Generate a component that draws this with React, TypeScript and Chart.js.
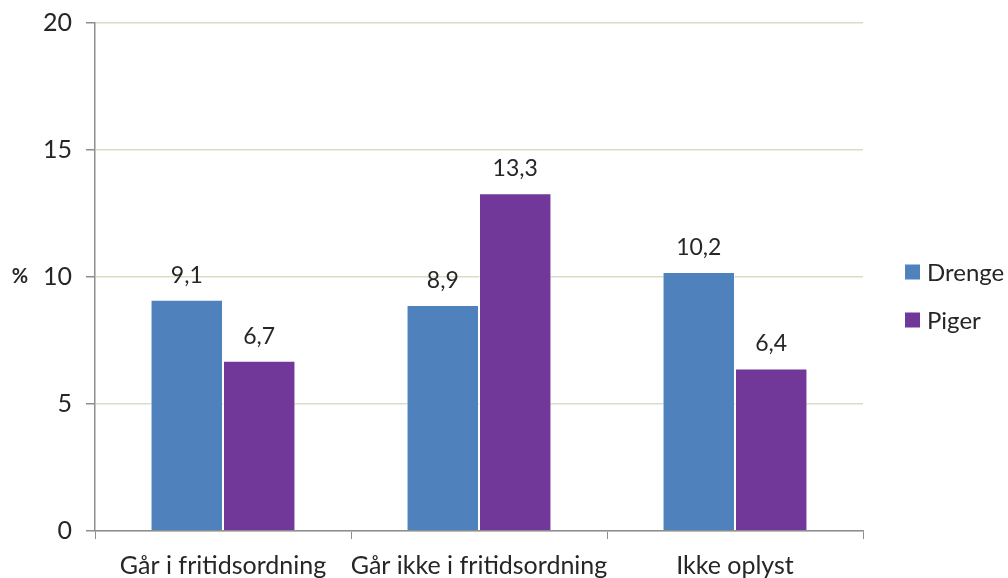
import React, { useEffect, useRef } from "react";
import { Chart, registerables } from "chart.js";

Chart.register(...registerables);

const categories = ["Går i fritidsordning", "Går ikke i fritidsordning", "Ikke oplyst"];
const drenge = [9.1, 8.9, 10.2];
const piger = [6.7, 13.3, 6.4];
const seriesLabels = ["Drenge", "Piger"];
const yTicks = [0, 5, 10, 15, 20];
const yTitle = "%";

const FONT = "Lato";
const TEXT = "#262626";
const AXIS = "#8E8E8E";
const GRID = "#DCDCC6";
const COLORS = ["#4F81BD", "#71389A"];

export default function App() {
  const ref = useRef<HTMLCanvasElement>(null);
  useEffect(() => {
    document.body.style.margin = "0";
    const canvas = ref.current!;
    const labelsPlugin = {
      id: "extras",
      afterDatasetsDraw(chart: any) {
        const ctx = chart.ctx;
        ctx.save();
        ctx.fillStyle = TEXT;
        ctx.font = `23px ${FONT}`;
        ctx.textAlign = "center";
        ctx.textBaseline = "alphabetic";
        chart.data.datasets.forEach((ds: any, i: number) => {
          const meta = chart.getDatasetMeta(i);
          meta.data.forEach((bar: any, j: number) => {
            const v = ds.data[j] as number;
            ctx.fillText(v.toFixed(1).replace(".", ","), bar.x, bar.y - 17);
          });
        });
        // y title
        const ys = chart.scales.y;
        ctx.font = `bold 20px ${FONT}`;
        ctx.textAlign = "center";
        ctx.textBaseline = "middle";
        ctx.fillText(yTitle, 20, ys.getPixelForValue(10));
        // legend
        ctx.font = `24px ${FONT}`;
        ctx.textAlign = "left";
        chart.data.datasets.forEach((ds: any, i: number) => {
          const cy = 272 + i * 48;
          ctx.fillStyle = COLORS[i];
          ctx.fillRect(905, cy - 7.5, 15, 15);
          ctx.fillStyle = TEXT;
          ctx.fillText(ds.label, 927, cy + 1);
        });
        ctx.restore();
      },
    };
    const chart = new Chart(canvas, {
      type: "bar",
      data: {
        labels: categories,
        datasets: [
          { label: seriesLabels[0], data: drenge, backgroundColor: COLORS[0], borderColor: "rgba(255,255,255,0.6)", borderWidth: 1, borderSkipped: "bottom" },
          { label: seriesLabels[1], data: piger, backgroundColor: COLORS[1], borderColor: "rgba(255,255,255,0.6)", borderWidth: 1, borderSkipped: "bottom" },
        ],
      },
      options: {
        animation: false,
        responsive: false,
        devicePixelRatio: 1,
        layout: { padding: { top: 23, right: 145, left: 0, bottom: 0 } },
        datasets: { bar: { barPercentage: 1, categoryPercentage: 0.566 } },
        plugins: { legend: { display: false }, tooltip: { enabled: false } },
        scales: {
          x: {
            afterFit: (s: any) => { s.height = 47; s.paddingLeft = 0; s.paddingRight = 0; },
            grid: { display: true, drawOnChartArea: false, drawTicks: true, offset: true, tickLength: 8, color: AXIS, tickColor: AXIS },
            border: { display: true, color: AXIS, width: 1.5 },
            ticks: { color: TEXT, font: { family: FONT, size: 25 }, padding: 12, maxRotation: 0, minRotation: 0, autoSkip: false },
          },
          y: {
            min: 0,
            max: 20,
            afterFit: (s: any) => { s.width = 95; s.paddingTop = 0; s.paddingBottom = 0; },
            afterBuildTicks: (s: any) => { s.ticks = yTicks.map((v) => ({ value: v })); },
            grid: { color: GRID, lineWidth: 1.5, tickLength: 9, tickColor: AXIS },
            border: { display: true, color: AXIS, width: 1.5 },
            ticks: { color: TEXT, font: { family: FONT, size: 25 }, padding: 14 },
          },
        },
      },
      plugins: [labelsPlugin],
    });
    return () => chart.destroy();
  }, []);
  return <canvas ref={ref} width={1008} height={578} style={{ display: "block" }} />;
}
